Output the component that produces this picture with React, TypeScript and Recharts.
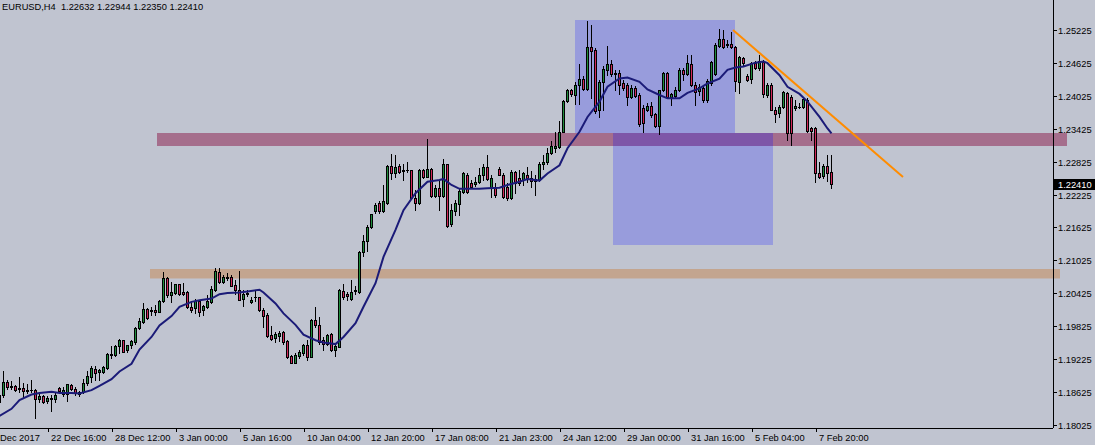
import React from 'react';
import { ComposedChart, Bar, Line, XAxis, YAxis, ReferenceArea, ReferenceLine } from 'recharts';

// EURUSD H4 candles: [open, high, low, close]
const candles: number[][] = [
  [1.1845, 1.1860, 1.1843, 1.1858], [1.1858, 1.1901, 1.1854, 1.1881], [1.1881, 1.1884, 1.1869, 1.1871], [1.1873, 1.1882, 1.1868, 1.1872],
  [1.1873, 1.1876, 1.1864, 1.1867], [1.1870, 1.1890, 1.1862, 1.1868], [1.1870, 1.1879, 1.1854, 1.1864], [1.1867, 1.1878, 1.1860, 1.1865],
  [1.1866, 1.1884, 1.1862, 1.1867], [1.1867, 1.1869, 1.1816, 1.1850], [1.1849, 1.1859, 1.1845, 1.1856], [1.1856, 1.1858, 1.1843, 1.1845],
  [1.1846, 1.1856, 1.1843, 1.1851], [1.1851, 1.1858, 1.1828, 1.1850], [1.1849, 1.1863, 1.1845, 1.1857], [1.1870, 1.1872, 1.1863, 1.1865],
  [1.1859, 1.1872, 1.1856, 1.1867], [1.1859, 1.1878, 1.1846, 1.1877], [1.1875, 1.1878, 1.1866, 1.1868], [1.1869, 1.1871, 1.1857, 1.1860],
  [1.1862, 1.1864, 1.1855, 1.1859], [1.1863, 1.1886, 1.1861, 1.1879], [1.1879, 1.1901, 1.1875, 1.1891], [1.1890, 1.1910, 1.1881, 1.1906],
  [1.1904, 1.1910, 1.1884, 1.1897], [1.1899, 1.1904, 1.1884, 1.1902], [1.1899, 1.1910, 1.1898, 1.1908], [1.1907, 1.1934, 1.1905, 1.1932],
  [1.1932, 1.1946, 1.1924, 1.1931], [1.1931, 1.1948, 1.1929, 1.1947], [1.1946, 1.1960, 1.1933, 1.1958], [1.1957, 1.1958, 1.1935, 1.1936],
  [1.1939, 1.1949, 1.1936, 1.1948], [1.1948, 1.1957, 1.1942, 1.1955], [1.1953, 1.1981, 1.1951, 1.1980], [1.1980, 1.1997, 1.1978, 1.1992],
  [1.1991, 1.2025, 1.1988, 1.2014], [1.2014, 1.2015, 1.1995, 1.1997], [1.2012, 1.2018, 1.2003, 1.2011], [1.2013, 1.2021, 1.2003, 1.2008],
  [1.2009, 1.2031, 1.2008, 1.2028], [1.2028, 1.2082, 1.2027, 1.2070], [1.2070, 1.2073, 1.2036, 1.2039], [1.2039, 1.2064, 1.2026, 1.2045],
  [1.2043, 1.2060, 1.2041, 1.2059], [1.2059, 1.2060, 1.2039, 1.2042], [1.2045, 1.2062, 1.2039, 1.2041], [1.2045, 1.2046, 1.2015, 1.2018],
  [1.2018, 1.2028, 1.2009, 1.2012], [1.2015, 1.2032, 1.2006, 1.2028], [1.2029, 1.2030, 1.2001, 1.2009], [1.2012, 1.2021, 1.2003, 1.2019],
  [1.2017, 1.2039, 1.2015, 1.2028], [1.2027, 1.2056, 1.2024, 1.2051], [1.2048, 1.2088, 1.2047, 1.2083], [1.2081, 1.2088, 1.2062, 1.2064],
  [1.2064, 1.2076, 1.2062, 1.2073], [1.2073, 1.2079, 1.2067, 1.2071], [1.2072, 1.2076, 1.2055, 1.2056], [1.2058, 1.2067, 1.2042, 1.2048],
  [1.2048, 1.2083, 1.2030, 1.2031], [1.2033, 1.2048, 1.2020, 1.2042], [1.2041, 1.2048, 1.2038, 1.2044], [1.2027, 1.2035, 1.2025, 1.2031],
  [1.2036, 1.2047, 1.2029, 1.2036], [1.2035, 1.2036, 1.2011, 1.2012], [1.2013, 1.2015, 1.1982, 1.2001], [1.2003, 1.2006, 1.1963, 1.1965],
  [1.1966, 1.1983, 1.1957, 1.1959], [1.1961, 1.1972, 1.1954, 1.1968], [1.1965, 1.1974, 1.1956, 1.1971], [1.1972, 1.1974, 1.1951, 1.1954],
  [1.1955, 1.1957, 1.1924, 1.1927], [1.1928, 1.1930, 1.1915, 1.1916], [1.1916, 1.1933, 1.1915, 1.1930], [1.1928, 1.1939, 1.1924, 1.1936],
  [1.1934, 1.1950, 1.1930, 1.1948], [1.1948, 1.1957, 1.1921, 1.1927], [1.1927, 1.1995, 1.1926, 1.1994], [1.1994, 1.2017, 1.1982, 1.1985],
  [1.1985, 1.2000, 1.1950, 1.1954], [1.1958, 1.1963, 1.1940, 1.1950], [1.1950, 1.1969, 1.1948, 1.1966], [1.1968, 1.1971, 1.1938, 1.1940],
  [1.1939, 1.1951, 1.1928, 1.1946], [1.1945, 1.2050, 1.1944, 1.2048], [1.2047, 1.2059, 1.2033, 1.2036], [1.2041, 1.2045, 1.2031, 1.2037],
  [1.2033, 1.2067, 1.2031, 1.2045], [1.2047, 1.2056, 1.2042, 1.2048], [1.2045, 1.2120, 1.2044, 1.2118], [1.2118, 1.2149, 1.2110, 1.2138],
  [1.2137, 1.2167, 1.2120, 1.2163], [1.2163, 1.2188, 1.2161, 1.2187], [1.2193, 1.2208, 1.2189, 1.2203], [1.2208, 1.2211, 1.2189, 1.2193],
  [1.2193, 1.2240, 1.2191, 1.2210], [1.2208, 1.2276, 1.2206, 1.2275], [1.2275, 1.2296, 1.2250, 1.2261], [1.2261, 1.2295, 1.2254, 1.2272],
  [1.2275, 1.2279, 1.2261, 1.2264], [1.2268, 1.2278, 1.2249, 1.2266], [1.2267, 1.2282, 1.2264, 1.2268], [1.2267, 1.2268, 1.2214, 1.2216],
  [1.2216, 1.2231, 1.2194, 1.2208], [1.2208, 1.2270, 1.2206, 1.2267], [1.2267, 1.2270, 1.2252, 1.2254], [1.2255, 1.2324, 1.2254, 1.2269],
  [1.2269, 1.2271, 1.2218, 1.2220], [1.2220, 1.2240, 1.2218, 1.2235], [1.2235, 1.2249, 1.2194, 1.2220], [1.2220, 1.2287, 1.2218, 1.2278],
  [1.2278, 1.2279, 1.2164, 1.2166], [1.2168, 1.2205, 1.2166, 1.2194], [1.2192, 1.2212, 1.2186, 1.2207], [1.2206, 1.2232, 1.2186, 1.2229],
  [1.2228, 1.2264, 1.2225, 1.2261], [1.2259, 1.2261, 1.2225, 1.2228], [1.2243, 1.2249, 1.2234, 1.2237], [1.2241, 1.2255, 1.2239, 1.2246],
  [1.2245, 1.2271, 1.2243, 1.2259], [1.2258, 1.2279, 1.2249, 1.2273], [1.2273, 1.2294, 1.2249, 1.2251], [1.2234, 1.2259, 1.2218, 1.2252],
  [1.2234, 1.2243, 1.2218, 1.2222], [1.2270, 1.2273, 1.2258, 1.2259], [1.2259, 1.2261, 1.2216, 1.2219], [1.2237, 1.2243, 1.2213, 1.2216],
  [1.2216, 1.2267, 1.2214, 1.2264], [1.2263, 1.2265, 1.2225, 1.2243], [1.2252, 1.2267, 1.2240, 1.2243], [1.2249, 1.2264, 1.2240, 1.2261],
  [1.2259, 1.2273, 1.2246, 1.2252], [1.2252, 1.2265, 1.2237, 1.2247], [1.2251, 1.2258, 1.2222, 1.2248], [1.2249, 1.2282, 1.2247, 1.2279],
  [1.2279, 1.2294, 1.2270, 1.2282], [1.2281, 1.2308, 1.2278, 1.2299], [1.2298, 1.2320, 1.2296, 1.2311], [1.2307, 1.2336, 1.2301, 1.2311],
  [1.2310, 1.2357, 1.2308, 1.2337], [1.2337, 1.2395, 1.2336, 1.2393], [1.2393, 1.2415, 1.2391, 1.2413], [1.2413, 1.2415, 1.2403, 1.2405],
  [1.2404, 1.2427, 1.2387, 1.2423], [1.2422, 1.2460, 1.2387, 1.2434], [1.2434, 1.2439, 1.2413, 1.2415], [1.2415, 1.2539, 1.2413, 1.2491],
  [1.2491, 1.2532, 1.2398, 1.2485], [1.2486, 1.2490, 1.2372, 1.2374], [1.2377, 1.2431, 1.2364, 1.2427], [1.2427, 1.2456, 1.2377, 1.2451],
  [1.2450, 1.2494, 1.2440, 1.2460], [1.2460, 1.2468, 1.2439, 1.2442], [1.2445, 1.2450, 1.2413, 1.2443], [1.2445, 1.2450, 1.2405, 1.2422],
  [1.2425, 1.2431, 1.2413, 1.2416], [1.2422, 1.2425, 1.2385, 1.2401], [1.2400, 1.2422, 1.2398, 1.2416], [1.2416, 1.2421, 1.2400, 1.2402],
  [1.2404, 1.2407, 1.2347, 1.2352], [1.2380, 1.2386, 1.2337, 1.2353], [1.2377, 1.2389, 1.2374, 1.2384], [1.2384, 1.2392, 1.2364, 1.2367],
  [1.2369, 1.2372, 1.2345, 1.2347], [1.2347, 1.2414, 1.2333, 1.2414], [1.2414, 1.2446, 1.2412, 1.2444], [1.2444, 1.2446, 1.2398, 1.2400],
  [1.2400, 1.2408, 1.2386, 1.2406], [1.2402, 1.2419, 1.2398, 1.2414], [1.2414, 1.2453, 1.2412, 1.2449], [1.2449, 1.2453, 1.2431, 1.2443],
  [1.2443, 1.2477, 1.2440, 1.2462], [1.2460, 1.2477, 1.2420, 1.2422], [1.2422, 1.2428, 1.2386, 1.2410], [1.2412, 1.2424, 1.2404, 1.2419],
  [1.2416, 1.2422, 1.2392, 1.2394], [1.2394, 1.2434, 1.2392, 1.2430], [1.2425, 1.2466, 1.2422, 1.2465], [1.2442, 1.2498, 1.2440, 1.2495],
  [1.2493, 1.2524, 1.2491, 1.2506], [1.2507, 1.2522, 1.2489, 1.2492], [1.2497, 1.2504, 1.2491, 1.2495], [1.2497, 1.2519, 1.2489, 1.2491],
  [1.2492, 1.2493, 1.2412, 1.2429], [1.2428, 1.2475, 1.2408, 1.2473], [1.2472, 1.2474, 1.2459, 1.2462], [1.2438, 1.2443, 1.2430, 1.2431],
  [1.2434, 1.2465, 1.2425, 1.2462], [1.2463, 1.2466, 1.2451, 1.2453], [1.2453, 1.2477, 1.2449, 1.2466], [1.2465, 1.2468, 1.2400, 1.2406],
  [1.2404, 1.2425, 1.2400, 1.2422], [1.2422, 1.2425, 1.2376, 1.2377], [1.2377, 1.2382, 1.2355, 1.2369], [1.2372, 1.2386, 1.2364, 1.2382],
  [1.2382, 1.2412, 1.2380, 1.2410], [1.2408, 1.2410, 1.2322, 1.2335], [1.2401, 1.2404, 1.2313, 1.2334], [1.2380, 1.2395, 1.2377, 1.2384],
  [1.2383, 1.2389, 1.2380, 1.2382], [1.2382, 1.2400, 1.2380, 1.2396], [1.2395, 1.2398, 1.2337, 1.2339], [1.2343, 1.2346, 1.2322, 1.2339],
  [1.2343, 1.2345, 1.2246, 1.2261], [1.2262, 1.2282, 1.2252, 1.2254], [1.2256, 1.2279, 1.2252, 1.2275], [1.2275, 1.2295, 1.2248, 1.2262],
  [1.22632, 1.22944, 1.22350, 1.22410],
];

// moving average at these bar numbers
const maIdx = [0, 3, 5, 8, 10, 13, 15, 18, 20, 23, 25, 28, 30, 33, 35, 38, 40, 43, 45, 48, 50, 53, 55, 57, 60, 62, 65, 66, 69, 71,
  74, 76, 79, 81, 84, 86, 89, 91, 94, 96, 99, 101, 104, 107, 110, 111, 113, 115, 117, 120, 122, 125, 127, 130, 132, 135, 137, 140,
  142, 145, 147, 150, 152, 155, 157, 160, 162, 165, 167, 170, 172, 175, 177, 180, 182, 184, 186, 189, 191, 192, 195, 197, 200, 202,
  205, 207, 208];
const maVal = [1.1819, 1.1832, 1.1848, 1.1858, 1.1861, 1.1863, 1.1861, 1.1861, 1.1860, 1.1866, 1.1874, 1.1886, 1.1900, 1.1914,
  1.1940, 1.1963, 1.1984, 1.2001, 1.2018, 1.2027, 1.2030, 1.2033, 1.2041, 1.2043, 1.2044, 1.2046, 1.2049, 1.2044, 1.2024, 1.2006,
  1.1985, 1.1967, 1.1957, 1.1953, 1.1950, 1.1963, 1.1988, 1.2018, 1.2061, 1.2109, 1.2158, 1.2194, 1.2225, 1.2246, 1.2249, 1.2251,
  1.2240, 1.2233, 1.2233, 1.2233, 1.2234, 1.2235, 1.2240, 1.2246, 1.2251, 1.2248, 1.2261, 1.2276, 1.2307, 1.2337, 1.2364, 1.2392,
  1.2419, 1.2434, 1.2436, 1.2428, 1.2414, 1.2404, 1.2398, 1.2398, 1.2408, 1.2416, 1.2425, 1.2434, 1.2450, 1.2454, 1.2456, 1.2463,
  1.2465, 1.2462, 1.2440, 1.2419, 1.2406, 1.2392, 1.2364, 1.2343, 1.2334];

const xTickPos = [0.125, 12, 28, 44, 60, 76, 92, 108, 124, 140, 156, 172, 188, 204];
const xTickText = ['Dec 2017', '22 Dec 16:00', '28 Dec 12:00', '3 Jan 00:00', '5 Jan 16:00', '10 Jan 04:00', '12 Jan 20:00',
  '17 Jan 08:00', '21 Jan 23:00', '24 Jan 12:00', '29 Jan 00:00', '31 Jan 16:00', '5 Feb 04:00', '7 Feb 20:00'];
const yTicks = [1.18025, 1.18625, 1.19225, 1.19825, 1.20425, 1.21025, 1.21625, 1.22225, 1.22825, 1.23425, 1.24025, 1.24625, 1.25225];

const lastPrice = 1.2241;
const title = 'EURUSD,H4  1.22632 1.22944 1.22350 1.22410';

// drawn objects, in bar / price units
const boxX1 = [143.875, 153.375, 39.375, 153.375, 37.625];
const boxX2 = [183.875, 193.375, 266.875, 193.375, 265.125];
const boxY1 = [1.25407, 1.21306, 1.23111, 1.23111, 1.20695];
const boxY2 = [1.23348, 1.23111, 1.23348, 1.23348, 1.20869];
const boxFill = ['#989cdc', '#989cdc', '#a56e8c', '#7e56a8', '#c3a58f'];
const trend = [183.375, 1.25225, 225.875, 1.22545];

const BG = '#c0c4d0';
const UP = '#1f8c3c';
const DOWN = '#d2285a';
const FONT = '"Liberation Sans", Arial, sans-serif';
const FS = 9.3;
const PLOT_RIGHT = 1053;
const PLOT_BOTTOM = 428;

const rows = candles.map(([o, h, l, c], i) => ({ i, o, h, l, c, range: [l, h], ma: null as number | null }));
maIdx.forEach((k, j) => { rows[k].ma = maVal[j]; });

const Candle = (props: any) => {
  const { x, y, width, height, payload } = props;
  if (!payload) return null;
  const { o, h, l, c } = payload;
  const top = Math.min(y, y + height);
  const bot = Math.max(y, y + height);
  const k = (bot - top) / (h - l || 1);
  const py = (p: number) => top + (h - p) * k;
  const cx = Math.round(x + width / 2 - 0.5) + 0.5;
  const bt = Math.round(Math.min(py(o), py(c)));
  const bb = Math.round(Math.max(py(o), py(c)));
  return (
    <g shapeRendering="crispEdges">
      <line x1={cx} x2={cx} y1={Math.round(top)} y2={Math.round(bot) + 1} stroke="#000" strokeWidth={1} />
      <rect x={cx - 1.5} y={bt} width={3} height={Math.max(1, bb - bt + 1)} fill="#000" />
      {bb - bt >= 2 && <rect x={cx - 0.5} y={bt + 1} width={1} height={bb - bt - 1} fill={c >= o ? UP : DOWN} />}
    </g>
  );
};

const XTick = (props: any) => {
  const { x, payload } = props;
  const n = xTickPos.indexOf(payload.value);
  if (n < 0) return null;
  if (n === 0) {
    return <text x={0} y={441} fontSize={FS} fontFamily={FONT} fill="#000">{xTickText[n]}</text>;
  }
  const xx = Math.round(x) + 0.5;
  return (
    <g>
      <line x1={xx} x2={xx} y1={PLOT_BOTTOM} y2={PLOT_BOTTOM + 4} stroke="#000" shapeRendering="crispEdges" />
      <text x={xx + 2.5} y={441} fontSize={FS} fontFamily={FONT} fill="#000">{xTickText[n]}</text>
    </g>
  );
};

const YTick = (props: any) => {
  const { y, payload } = props;
  const yy = Math.round(y) + 0.5;
  return (
    <g>
      <line x1={PLOT_RIGHT} x2={PLOT_RIGHT + 4} y1={yy} y2={yy} stroke="#000" shapeRendering="crispEdges" />
      <text x={PLOT_RIGHT + 5} y={yy + 3.5} fontSize={FS} fontFamily={FONT} fill="#000">{payload.value.toFixed(5)}</text>
    </g>
  );
};

const PriceTag = (props: any) => {
  const vb = props.viewBox || {};
  const yy = Math.round(vb.y ?? 0);
  return (
    <g>
      <rect x={PLOT_RIGHT + 1} y={yy - 5} width={42} height={11} fill="#000" />
      <text x={PLOT_RIGHT + 5} y={yy + 4} fontSize={FS} fontFamily={FONT} fill="#fff">{lastPrice.toFixed(5)}</text>
    </g>
  );
};

export default function App() {
  return (
    <div style={{ position: 'absolute', left: 0, top: 0, width: 1095, height: 445, background: BG, overflow: 'hidden' }}>
      <ComposedChart width={1095} height={445} data={rows} margin={{ top: 0, right: 0, bottom: 0, left: 0 }}>
        <XAxis dataKey="i" type="number" domain={[0.125, 263.375]} allowDataOverflow ticks={xTickPos} interval={0}
          height={17} tickLine={false} tick={<XTick />} axisLine={{ stroke: '#000', shapeRendering: 'crispEdges' }} />
        <YAxis orientation="right" type="number" domain={[1.179703, 1.257718]} allowDataOverflow ticks={yTicks}
          interval={0} width={42} tickLine={false} tick={<YTick />} axisLine={{ stroke: '#000', shapeRendering: 'crispEdges' }} />
        {boxX1.map((x1, n) => (
          <ReferenceArea key={n} x1={x1} x2={boxX2[n]} y1={boxY1[n]} y2={boxY2[n]} fill={boxFill[n]} fillOpacity={1}
            stroke="none" ifOverflow="visible" />
        ))}
        <Bar dataKey="range" barSize={4} shape={<Candle />} isAnimationActive={false} />
        <Line dataKey="ma" type="linear" stroke="#1b1b78" strokeWidth={2} dot={false} connectNulls isAnimationActive={false} />
        <ReferenceLine segment={[{ x: trend[0], y: trend[1] }, { x: trend[2], y: trend[3] }]} stroke="#ff8c00" strokeWidth={2}
          ifOverflow="visible" />
        <ReferenceLine y={lastPrice} stroke="none" ifOverflow="visible" label={<PriceTag />} />
      </ComposedChart>
      <div style={{ position: 'absolute', left: 2, top: 2, fontSize: FS, fontFamily: FONT, color: '#000', whiteSpace: 'pre' }}>
        {title}
      </div>
    </div>
  );
}
